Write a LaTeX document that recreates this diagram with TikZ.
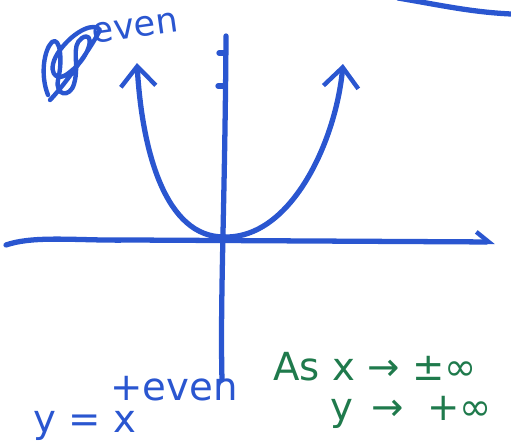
\documentclass[tikz,border=0pt]{standalone}
\usepackage{fontspec}
\setmainfont{DejaVu Sans}
\usetikzlibrary{arrows.meta,positioning}
\definecolor{pen}{HTML}{2A56D0}
\definecolor{note}{HTML}{1F7A4C}

\begin{document}
\begin{tikzpicture}[x=0.02cm,y=-0.02cm,
  ink/.style={draw=pen,line width=3pt,line cap=round,line join=round},
  tip/.style={-{Straight Barb[length=4mm,width=7mm,line width=2.5pt]}},
  halftip/.style={-{Straight Barb[left,length=2.5mm,width=4mm,line width=2.5pt]}},
  hand/.style={text=#1,font=\fontsize{22}{26}\selectfont,inner sep=0pt},
]
  \useasboundingbox (0,0) rectangle (511,447);
  % axes
  \coordinate (xl) at (6,245);
  \coordinate (xr) at (495,242);
  \coordinate (yt) at (226,36);
  \coordinate (yb) at (222,380);
  \coordinate (o) at (225,237);
  \draw[ink,halftip] (xl) .. controls (35,235) and (80,241) .. (130,240) -- (xr);
  \draw[ink] (yt) .. controls (225,200) and (220,300) .. (yb);
  \draw[ink] (219,53) -- (225,53);
  \draw[ink] (218,86) -- (225,86);
  % curve
  \coordinate (lt) at (137,63);
  \coordinate (rt) at (343,64);
  \draw[ink,tip] (o) .. controls (165,238) and (142,150) .. (lt);
  \draw[ink,tip] (o) .. controls (292,238) and (336,140) .. (rt);
  % stray stroke top right
  \coordinate (s1) at (398,-2);
  \coordinate (s2) at (511,14);
  \draw[ink] (s1) .. controls (440,5) and (470,12) .. (s2);
  % scribble and label
  \draw[draw=pen,line width=2.5pt,line cap=round,line join=round]
    (48,95) .. controls (40,75) and (44,50) .. (52,42)
    .. controls (60,36) and (63,60) .. (58,80)
    .. controls (55,96) and (70,98) .. (74,84)
    .. controls (80,64) and (70,46) .. (82,38)
    .. controls (95,30) and (92,55) .. (70,72)
    .. controls (55,85) and (45,70) .. (60,50)
    .. controls (75,30) and (95,22) .. (100,30)
    .. controls (90,50) and (62,88) .. (50,100);
  \node[hand=pen,font=\fontsize{20}{24}\selectfont,rotate=8] (evenlbl) at (135,28) {even};
  % formula
  \node[hand=pen,anchor=base west] (eqn) at (33,432) {y = x};
  \node[hand=pen,anchor=base west] (pow) at (110,400) {+even};
  % limits
  \node[hand=note,anchor=base west] (limx) at (273,380) {As x → ±∞};
  \node[hand=note,anchor=base west] (limy) at (330,420) {y\, →\; +∞};
\end{tikzpicture}
\end{document}
